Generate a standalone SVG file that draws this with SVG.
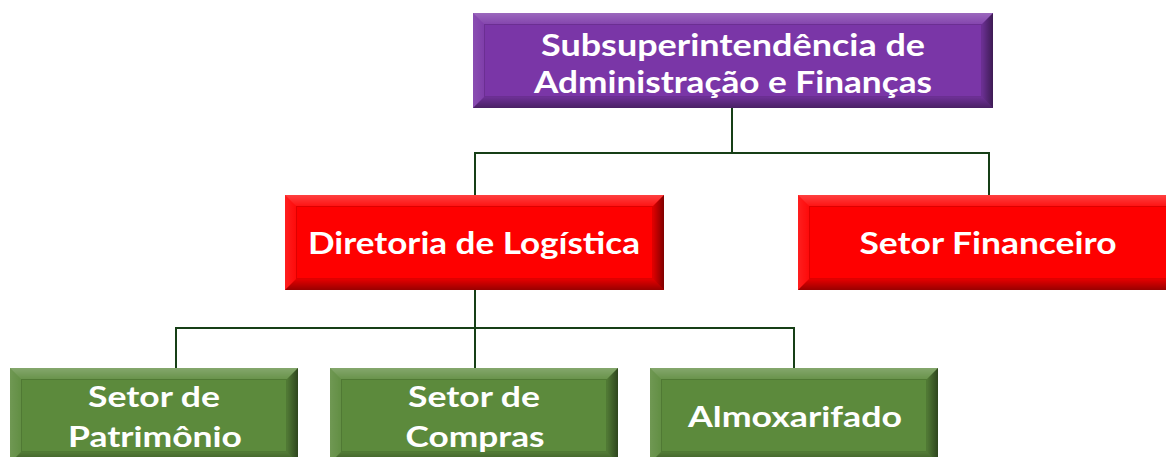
<svg xmlns="http://www.w3.org/2000/svg" width="1166" height="457" viewBox="0 0 1166 457">
<defs>
<linearGradient id="gR" x1="0" y1="0" x2="1" y2="0"><stop offset="0" stop-color="#000" stop-opacity="0.12"/><stop offset="1" stop-color="#000" stop-opacity="0.5"/></linearGradient>
<linearGradient id="gB" x1="0" y1="0" x2="0" y2="1"><stop offset="0" stop-color="#000" stop-opacity="0.1"/><stop offset="1" stop-color="#000" stop-opacity="0.4"/></linearGradient>
<linearGradient id="gT" x1="0" y1="0" x2="0" y2="1"><stop offset="0" stop-color="#fff" stop-opacity="0.25"/><stop offset="1" stop-color="#fff" stop-opacity="0.08"/></linearGradient>
<linearGradient id="gL" x1="0" y1="0" x2="1" y2="0"><stop offset="0" stop-color="#fff" stop-opacity="0.12"/><stop offset="1" stop-color="#fff" stop-opacity="0.04"/></linearGradient>
</defs>
<style>
.purple{fill:#7A36A7}
.red{fill:#FE0000}
.green{fill:#5C8A3C}
.bt{fill:url(#gT)}
.bl{fill:url(#gL)}
.br{fill:url(#gR)}
.bb{fill:url(#gB)}
.inner{fill:none;stroke:#000;stroke-opacity:0.12;stroke-width:1}
.lbl{font-family:Lato,"Liberation Sans",sans-serif;font-weight:bold;fill:#fff;text-anchor:middle}
.conn{fill:none;stroke:#173F17;stroke-width:2}
</style>

<g id="connectors">
<path class="conn" d="M732,108 V153 M475,195 V153 H989 V195"/>
<path class="conn" d="M475,290 V368 M176,368 V328 H794 V368"/>
</g>

<g id="subsuperintendencia">
<rect class="purple" x="473" y="13" width="520" height="95"/>
<polygon class="bt" points="473,13 993,13 982,24 484,24"/>
<polygon class="bl" points="473,13 484,24 484,97 473,108"/>
<polygon class="br" points="982,24 993,13 993,108 982,97"/>
<polygon class="bb" points="484,97 982,97 993,108 473,108"/>
<rect class="inner" x="484.5" y="24.5" width="497" height="72"/>
<text class="lbl" x="733" y="56" font-size="30.5" textLength="384" lengthAdjust="spacingAndGlyphs">Subsuperintendência de</text>
<text class="lbl" x="733" y="93" font-size="30.5" textLength="398" lengthAdjust="spacingAndGlyphs">Administração e Finanças</text>
</g>

<g id="diretoria">
<rect class="red" x="285" y="195" width="379" height="95"/>
<polygon class="bt" points="285,195 664,195 653,206 296,206"/>
<polygon class="bl" points="285,195 296,206 296,279 285,290"/>
<polygon class="br" points="653,206 664,195 664,290 653,279"/>
<polygon class="bb" points="296,279 653,279 664,290 285,290"/>
<rect class="inner" x="296.5" y="206.5" width="356" height="72"/>
<text class="lbl" x="474" y="254" font-size="30" textLength="332" lengthAdjust="spacingAndGlyphs">Diretoria de Logística</text>
</g>

<g id="financeiro">
<rect class="red" x="798" y="195" width="380" height="95"/>
<polygon class="bt" points="798,195 1178,195 1167,206 809,206"/>
<polygon class="bl" points="798,195 809,206 809,279 798,290"/>
<polygon class="br" points="1167,206 1178,195 1178,290 1167,279"/>
<polygon class="bb" points="809,279 1167,279 1178,290 798,290"/>
<rect class="inner" x="809.5" y="206.5" width="357" height="72"/>
<text class="lbl" x="988" y="254" font-size="30" textLength="257" lengthAdjust="spacingAndGlyphs">Setor Financeiro</text>
</g>

<g id="patrimonio">
<rect class="green" x="10" y="368" width="288" height="95"/>
<polygon class="bt" points="10,368 298,368 287,379 21,379"/>
<polygon class="bl" points="10,368 21,379 21,452 10,463"/>
<polygon class="br" points="287,379 298,368 298,463 287,452"/>
<polygon class="bb" points="21,452 287,452 298,463 10,463"/>
<rect class="inner" x="21.5" y="379.5" width="265" height="72"/>
<text class="lbl" x="154" y="407" font-size="29" textLength="132" lengthAdjust="spacingAndGlyphs">Setor de</text>
<text class="lbl" x="155" y="447" font-size="29" textLength="174" lengthAdjust="spacingAndGlyphs">Patrimônio</text>
</g>

<g id="compras">
<rect class="green" x="330" y="368" width="288" height="95"/>
<polygon class="bt" points="330,368 618,368 607,379 341,379"/>
<polygon class="bl" points="330,368 341,379 341,452 330,463"/>
<polygon class="br" points="607,379 618,368 618,463 607,452"/>
<polygon class="bb" points="341,452 607,452 618,463 330,463"/>
<rect class="inner" x="341.5" y="379.5" width="265" height="72"/>
<text class="lbl" x="474" y="407" font-size="29" textLength="132" lengthAdjust="spacingAndGlyphs">Setor de</text>
<text class="lbl" x="475" y="447" font-size="29" textLength="139" lengthAdjust="spacingAndGlyphs">Compras</text>
</g>

<g id="almoxarifado">
<rect class="green" x="650" y="368" width="288" height="95"/>
<polygon class="bt" points="650,368 938,368 927,379 661,379"/>
<polygon class="bl" points="650,368 661,379 661,452 650,463"/>
<polygon class="br" points="927,379 938,368 938,463 927,452"/>
<polygon class="bb" points="661,452 927,452 938,463 650,463"/>
<rect class="inner" x="661.5" y="379.5" width="265" height="72"/>
<text class="lbl" x="795" y="427" font-size="29" textLength="214" lengthAdjust="spacingAndGlyphs">Almoxarifado</text>
</g>
</svg>
